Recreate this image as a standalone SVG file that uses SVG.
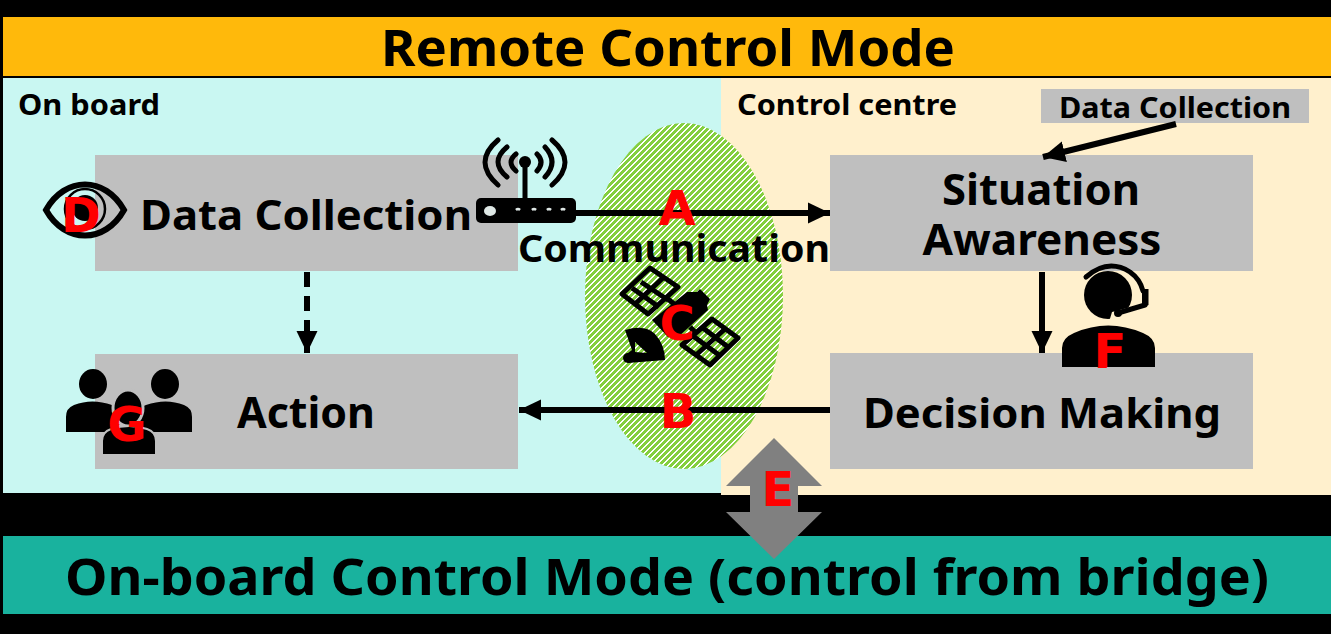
<svg xmlns="http://www.w3.org/2000/svg" width="1331" height="634" viewBox="0 0 1331 634">
<style>
text{font-family:"Noto Sans","DejaVu Sans",sans-serif;font-weight:700;fill:#000;text-anchor:middle}
.box{fill:#bfbfbf}
text.lab{fill:#f00;font-family:"DejaVu Sans",sans-serif;font-size:48px}
.ln{stroke:#000;stroke-width:6;fill:none}
.ic{fill:#000}
.ico{fill:none;stroke:#000;stroke-linecap:round}
</style>
<defs>
<pattern id="hatch" x="0" y="0" width="6" height="6" patternUnits="userSpaceOnUse">
<rect width="6" height="6" fill="#fff"/>
<path shape-rendering="crispEdges" fill="#84cf3f" d="M0 0h4v1h-4zM5 1h1v1h-1zM0 1h3v1h-3zM4 2h2v1h-2zM0 2h2v1h-2zM3 3h3v1h-3zM0 3h1v1h-1zM2 4h4v1h-4zM1 5h4v1h-4z"/>
</pattern>
<marker id="ah" markerUnits="userSpaceOnUse" markerWidth="24" markerHeight="24" refX="22" refY="11" orient="auto"><path d="M0 0.500L22 11L0 21.500Z" fill="#000"/></marker>
</defs>
<rect width="1331" height="634" fill="#000"/>
<g id="panels">
<rect x="3" y="78" width="718" height="415" fill="#c9f7f2"/>
<rect x="721" y="78" width="610" height="417" fill="#fff0cd"/>
<ellipse cx="684" cy="296" rx="99" ry="173" fill="url(#hatch)"/>
<text x="89" y="115" font-size="29" textLength="142" lengthAdjust="spacingAndGlyphs">On board</text>
<text x="847" y="115" font-size="29" textLength="220" lengthAdjust="spacingAndGlyphs">Control centre</text>
</g>
<g id="banner-remote"><rect x="3" y="17" width="1328" height="59" fill="#ffb90b"/><text x="668" y="66" font-size="50" textLength="574" lengthAdjust="spacingAndGlyphs">Remote Control Mode</text></g>
<g id="banner-onboard"><rect x="3" y="536" width="1328" height="78" fill="#19b29e"/><text x="667" y="595" font-size="51" textLength="1204" lengthAdjust="spacingAndGlyphs">On-board Control Mode (control from bridge)</text></g>
<g id="node-data-collection"><rect class="box" x="95" y="155" width="423" height="116"/><text x="306" y="230" font-size="42" textLength="332" lengthAdjust="spacingAndGlyphs">Data Collection</text></g>
<g id="node-action"><rect class="box" x="95" y="354" width="423" height="115"/><text x="306" y="428" font-size="43" textLength="138" lengthAdjust="spacingAndGlyphs">Action</text></g>
<g id="node-situation"><rect class="box" x="830" y="155" width="423" height="116"/><text x="1041" y="205" font-size="43" textLength="198" lengthAdjust="spacingAndGlyphs">Situation</text><text x="1042" y="255" font-size="43" textLength="239" lengthAdjust="spacingAndGlyphs">Awareness</text></g>
<g id="node-decision"><rect class="box" x="830" y="353" width="423" height="116"/><text x="1042" y="428" font-size="42" textLength="358" lengthAdjust="spacingAndGlyphs">Decision Making</text></g>
<g id="node-data-small"><rect class="box" x="1041" y="89" width="268" height="34"/><text x="1175" y="118" font-size="29" textLength="232" lengthAdjust="spacingAndGlyphs">Data Collection</text></g>
<g id="connectors">
<path class="ln" d="M570 213H830" marker-end="url(#ah)"/>
<path class="ln" d="M830 410H519" marker-end="url(#ah)"/>
<path class="ln" stroke-dasharray="15 9" d="M307 272V353" marker-end="url(#ah)"/>
<path class="ln" d="M1042 272V353" marker-end="url(#ah)"/>
<path class="ln" d="M1176 124L1043 157" marker-end="url(#ah)"/>
</g>
<g id="node-comm"><text x="674" y="262" font-size="38" textLength="312" lengthAdjust="spacingAndGlyphs">Communication</text></g>
<g id="icon-router">
<rect class="ic" x="476" y="198" width="100" height="25" rx="5"/>
<rect class="ic" x="522.500" y="162" width="5" height="38"/><circle class="ic" cx="525" cy="162" r="6"/>
<ellipse cx="490" cy="211" rx="6" ry="5" fill="#dfe8e6"/>
<path d="M516 210q2-2 4 0M532 210q2-2 4 0M547 210q2-2 4 0M561 210q2-2 4 0" stroke="#dfe8e6" stroke-width="2.500" fill="none"/>
<path class="ico" stroke-width="5" d="M498 140Q472 162 498 185M507 147Q489 162 507 177M516 154Q506 162 516 171M552 140Q578 162 552 185M545 147Q559 162 545 177M537 154Q545 162 537 171"/>
</g>
<g id="icon-satellite">
<g fill="none" stroke="#000" stroke-width="5" stroke-linejoin="round">
<path d="M650 268L678 287L648 314L622 294Z"/>
<path d="M664 277L635 304"/><path d="M641 282L668 300M632 288L659 307"/>
<path d="M712 319L738 338L710 365L682 345Z"/>
<path d="M725 329L696 355"/><path d="M703 328L728 347M693 336L719 355"/>
<path d="M668 299L680 309M690 327L697 334"/>
</g>
<path class="ic" d="M652 320L687 292L697 292L700 289L710 299L707 305L708 310L678 337L668 337Z"/>
<path class="ic" d="M625 330Q645 324 655 334Q665 345 665 360L628 363L624 356L632 350Z"/>
<circle class="ic" cx="628" cy="358" r="5"/>
<path d="M635 342L647 353L635 352Z" fill="url(#hatch)"/>
</g>
<g id="icon-eye">
<path d="M46 210C65 176 105 176 124 210C105 244 65 244 46 210Z" fill="none" stroke="#000" stroke-width="6"/>
<circle cx="85" cy="209" r="20" fill="none" stroke="#000" stroke-width="2.500"/>
<circle class="ic" cx="85" cy="208" r="13"/>
</g>
<g id="icon-people">
<ellipse class="ic" cx="93" cy="384" rx="14" ry="15"/>
<ellipse class="ic" cx="165" cy="384" rx="14" ry="15"/>
<path class="ic" d="M66 432V417Q66 408 74 405Q92 398 112 405Q125 410 124 420L112 432Z"/>
<path class="ic" d="M192 432V417Q192 408 184 405Q166 398 146 405Q133 410 134 420L146 432Z"/>
<ellipse cx="128" cy="408" rx="15" ry="18" fill="#000" stroke="#bfbfbf" stroke-width="3"/>
<path d="M102 455V441Q102 432 111 429Q129 423 147 429Q156 432 156 441V455Z" fill="#000" stroke="#bfbfbf" stroke-width="2"/>
</g>
<g id="icon-operator">
<path class="ic" d="M1062 367V348Q1062 338 1074 333Q1108 318 1143 333Q1155 338 1155 348V367Z"/>
<circle class="ic" cx="1108" cy="295" r="24"/>
<path d="M1109 322L1112 312L1146 303L1146 285L1136 315L1125 325Z" fill="#fff0cd"/>
<path class="ico" stroke-width="5" d="M1086 277Q1108 258 1130 272Q1140 279 1143 291"/>
<path class="ic" d="M1142 289H1148.500V305L1142 308Z"/>
<path class="ico" stroke-width="5" d="M1145 305L1118 313"/>
<circle class="ic" cx="1118" cy="313" r="4"/>
</g>
<g id="arrow-e"><path d="M774 438L822 486H798V512H822L774 559L726 512H750V486H726Z" fill="#808080"/></g>
<g id="labels">
<text class="lab" x="677" y="225">A</text>
<text class="lab" x="678" y="428">B</text>
<text class="lab" x="677" y="340">C</text>
<text class="lab" x="81" y="232">D</text>
<text class="lab" x="778" y="506">E</text>
<text class="lab" x="1110" y="368">F</text>
<text class="lab" x="127" y="441">G</text>
</g>
</svg>
